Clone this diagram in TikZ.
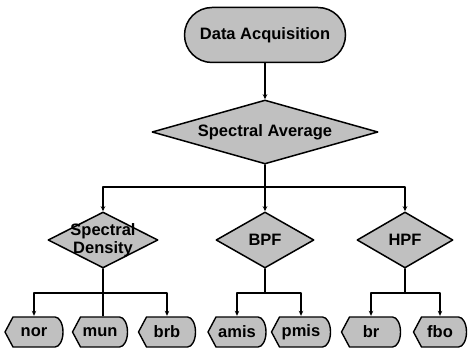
\documentclass[tikz,border=0pt]{standalone}
\usepackage{fontspec}
\setmainfont{Liberation Sans}
\usetikzlibrary{arrows.meta,shapes.geometric,shapes.misc}
\definecolor{shadegray}{RGB}{192,192,192}

\begin{document}
\begin{tikzpicture}[
  x=1pt, y=-1pt,
  >={Stealth[length=5pt,width=4.5pt]},
  line cap=round,
  line join=round,
  every node/.style={font=\fontsize{16.5}{17.5}\selectfont\bfseries},
  link/.style={line width=1.3pt},
  startbox/.style={rounded rectangle, draw, fill=shadegray, line width=1.5pt,
    minimum width=161pt, minimum height=55pt, inner sep=0pt},
  decision/.style={diamond, draw, fill=shadegray, line width=1.5pt,
    inner sep=0pt, align=center},
  outbox/.style={minimum width=#1, minimum height=32pt, inner sep=0pt,
    path picture={
      \draw[fill=shadegray, line width=1.4pt]
        ([xshift=1pt]path picture bounding box.west)
        -- ([xshift=9pt,yshift=-1pt]path picture bounding box.north west)
        -- ([xshift=-9pt,yshift=-1pt]path picture bounding box.north east)
        arc[start angle=90, end angle=-90, x radius=8pt, y radius=15pt]
        -- ([xshift=9pt,yshift=1pt]path picture bounding box.south west)
        -- cycle;
    }}
]
  \useasboundingbox (0,0) rectangle (468,352);

  % Top of the chart
  \node[startbox] (acq) at (265,35) {Data Acquisition};
  \node[decision, aspect=3.5, minimum width=226pt, minimum height=64pt] (avg) at (265,132) {Spectral Average};

  % Second level (text of the density box runs past its edges)
  \node[decision, minimum width=110pt, minimum height=56pt,
    label={[align=center]center:Spectral\\Density}] (dens) at (103,240) {};
  \node[decision, aspect=1.75, minimum width=98pt, minimum height=56pt] (bpf) at (265,240) {BPF};
  \node[decision, aspect=1.7, minimum width=96pt, minimum height=56pt] (hpf) at (405,240) {HPF};

  % Outputs
  \node[outbox=60pt] (nor) at (34,332) {nor};
  \node[outbox=57pt] (mun) at (100,332) {mun};
  \node[outbox=59pt] (brb) at (167,332) {brb};
  \node[outbox=60pt] (amis) at (237,332) {amis};
  \node[outbox=61pt] (pmis) at (301,332) {pmis};
  \node[outbox=61pt] (br) at (371,332) {br};
  \node[outbox=55pt] (fbo) at (440,332) {fbo};

  % Branch points
  \coordinate (split) at (265,187);
  \coordinate (dsplit) at (103,293);
  \coordinate (bsplit) at (265,293);
  \coordinate (hsplit) at (405,293);

  % Connectors
  \draw[link,->] (acq.south) -- (acq.south |- avg.north);
  \draw[link] (avg.south) -- (split);
  \draw[link,->] (split) -| (dens.north);
  \draw[link,->] (split) -- (bpf.north);
  \draw[link,->] (split) -| (hpf.north);

  \draw[link] (dens.south) -- (dens.south |- mun.north);
  \draw[link,->] (dsplit) -| (nor.north);
  \draw[link,->] (dsplit) -| (brb.north);

  \draw[link] (bpf.south) -- (bsplit);
  \draw[link,->] (bsplit) -| (amis.north);
  \draw[link,->] (bsplit) -| (pmis.north);

  \draw[link] (hpf.south) -- (hsplit);
  \draw[link,->] (hsplit) -| (br.north);
  \draw[link,->] (hsplit) -| (fbo.north);
\end{tikzpicture}
\end{document}
